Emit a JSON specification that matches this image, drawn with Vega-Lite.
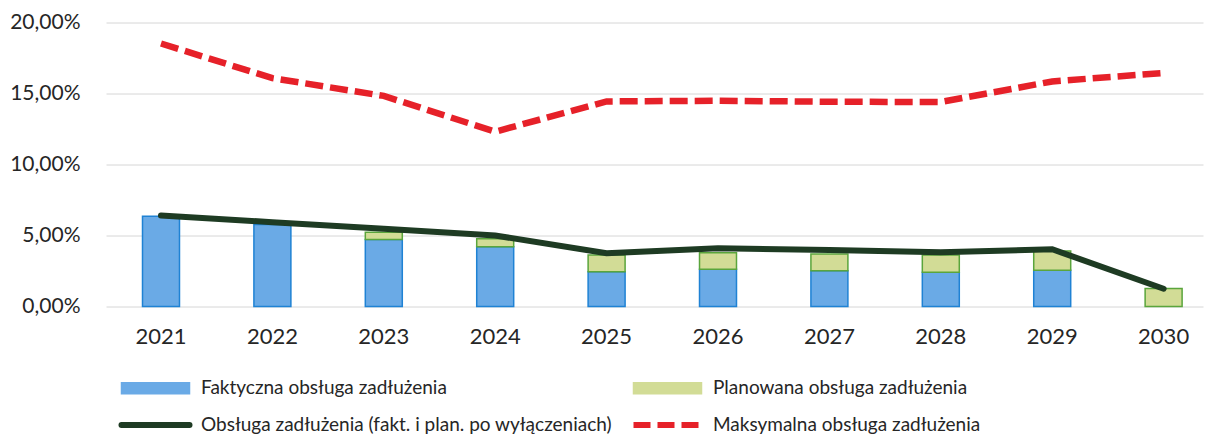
{
  "$schema": "https://vega.github.io/schema/vega-lite/v6.json",
  "width": 1097,
  "height": 284,
  "autosize": {"type": "none"},
  "padding": {"left": 106, "top": 22.5, "right": 2, "bottom": 129.5},
  "background": "white",
  "config": {"view": {"stroke": null}, "font": "Lato"},
  "data": {
    "values": [
      {"year": "2021", "series": "Faktyczna obsługa zadłużenia", "value": 0.0636},
      {"year": "2022", "series": "Faktyczna obsługa zadłużenia", "value": 0.0578},
      {"year": "2023", "series": "Faktyczna obsługa zadłużenia", "value": 0.0472},
      {"year": "2024", "series": "Faktyczna obsługa zadłużenia", "value": 0.0420},
      {"year": "2025", "series": "Faktyczna obsługa zadłużenia", "value": 0.0245},
      {"year": "2026", "series": "Faktyczna obsługa zadłużenia", "value": 0.0262},
      {"year": "2027", "series": "Faktyczna obsługa zadłużenia", "value": 0.0252},
      {"year": "2028", "series": "Faktyczna obsługa zadłużenia", "value": 0.0241},
      {"year": "2029", "series": "Faktyczna obsługa zadłużenia", "value": 0.0255},
      {"year": "2023", "series": "Planowana obsługa zadłużenia", "value": 0.0051},
      {"year": "2024", "series": "Planowana obsługa zadłużenia", "value": 0.0057},
      {"year": "2025", "series": "Planowana obsługa zadłużenia", "value": 0.0118},
      {"year": "2026", "series": "Planowana obsługa zadłużenia", "value": 0.0117},
      {"year": "2027", "series": "Planowana obsługa zadłużenia", "value": 0.0118},
      {"year": "2028", "series": "Planowana obsługa zadłużenia", "value": 0.0122},
      {"year": "2029", "series": "Planowana obsługa zadłużenia", "value": 0.0135},
      {"year": "2030", "series": "Planowana obsługa zadłużenia", "value": 0.0127},
      {"year": "2021", "series": "Obsługa zadłużenia (fakt. i plan. po wyłączeniach)", "value": 0.0641},
      {"year": "2022", "series": "Obsługa zadłużenia (fakt. i plan. po wyłączeniach)", "value": 0.0594},
      {"year": "2023", "series": "Obsługa zadłużenia (fakt. i plan. po wyłączeniach)", "value": 0.0547},
      {"year": "2024", "series": "Obsługa zadłużenia (fakt. i plan. po wyłączeniach)", "value": 0.0500},
      {"year": "2025", "series": "Obsługa zadłużenia (fakt. i plan. po wyłączeniach)", "value": 0.0375},
      {"year": "2026", "series": "Obsługa zadłużenia (fakt. i plan. po wyłączeniach)", "value": 0.0410},
      {"year": "2027", "series": "Obsługa zadłużenia (fakt. i plan. po wyłączeniach)", "value": 0.0398},
      {"year": "2028", "series": "Obsługa zadłużenia (fakt. i plan. po wyłączeniach)", "value": 0.0382},
      {"year": "2029", "series": "Obsługa zadłużenia (fakt. i plan. po wyłączeniach)", "value": 0.0403},
      {"year": "2030", "series": "Obsługa zadłużenia (fakt. i plan. po wyłączeniach)", "value": 0.0125},
      {"year": "2021", "series": "Maksymalna obsługa zadłużenia", "value": 0.1852},
      {"year": "2022", "series": "Maksymalna obsługa zadłużenia", "value": 0.1608},
      {"year": "2023", "series": "Maksymalna obsługa zadłużenia", "value": 0.1483},
      {"year": "2024", "series": "Maksymalna obsługa zadłużenia", "value": 0.1231},
      {"year": "2025", "series": "Maksymalna obsługa zadłużenia", "value": 0.1444},
      {"year": "2026", "series": "Maksymalna obsługa zadłużenia", "value": 0.1449},
      {"year": "2027", "series": "Maksymalna obsługa zadłużenia", "value": 0.1442},
      {"year": "2028", "series": "Maksymalna obsługa zadłużenia", "value": 0.1440},
      {"year": "2029", "series": "Maksymalna obsługa zadłużenia", "value": 0.1585},
      {"year": "2030", "series": "Maksymalna obsługa zadłużenia", "value": 0.1645}
    ]
  },
  "encoding": {
    "x": {
      "field": "year",
      "type": "nominal",
      "title": null,
      "scale": {"paddingInner": 0.668, "paddingOuter": 0.2576, "align": 0.636},
      "axis": {
        "labelFont": "Lato",
        "labelFontSize": 22,
        "labelColor": "#262626",
        "labelAngle": 0,
        "ticks": false,
        "domain": false,
        "grid": false,
        "labelPadding": 20
      }
    },
    "y": {
      "field": "value",
      "type": "quantitative",
      "title": null,
      "scale": {"domain": [0, 0.2], "nice": false},
      "axis": {
        "values": [0, 0.05, 0.1, 0.15, 0.2],
        "labelExpr": "replace(format(datum.value, '.2%'), '.', ',')",
        "labelFont": "Lato",
        "labelFontSize": 21,
        "labelColor": "#262626",
        "ticks": false,
        "domain": false,
        "labelPadding": 26,
        "gridColor": "#d6d6d6",
        "gridWidth": 1
      }
    },
    "color": {
      "field": "series",
      "type": "nominal",
      "scale": {
        "domain": [
          "Faktyczna obsługa zadłużenia",
          "Planowana obsługa zadłużenia",
          "Obsługa zadłużenia (fakt. i plan. po wyłączeniach)",
          "Maksymalna obsługa zadłużenia"
        ],
        "range": ["#6aaae6", "#d2dc96", "#1e3b23", "#e62129"]
      },
      "legend": {
        "orient": "none",
        "direction": "horizontal",
        "legendX": 17,
        "legendY": 356,
        "columns": 2,
        "columnPadding": 9,
        "rowPadding": 14,
        "title": null,
        "padding": 0,
        "labelFont": "Lato",
        "labelFontSize": 19,
        "labelColor": "#262626",
        "labelLimit": 700,
        "symbolSize": 400,
        "symbolStrokeWidth": 1.5,
        "symbolOffset": 23,
        "labelOffset": 36,
        "encode": {
          "symbols": {
            "update": {
              "shape": {"signal": "datum.index < 2 ? 'M-3.4,-0.55H3.4V0.55H-3.4Z' : 'M-3.4,0H3.4'"},
              "fill": {"signal": "datum.index === 0 ? '#6aaae6' : datum.index === 1 ? '#d2dc96' : 'transparent'"},
              "stroke": {"signal": "datum.index === 0 ? '#1f82d4' : datum.index === 1 ? '#5aa53c' : datum.index === 2 ? '#1e3b23' : '#e62129'"},
              "strokeWidth": {"signal": "datum.index < 2 ? 1.5 : 6"},
              "strokeDash": {"signal": "datum.index === 3 ? [17, 7] : []"},
              "strokeCap": {"signal": "datum.index === 2 ? 'round' : 'butt'"},
              "opacity": {"value": 1}
            }
          }
        }
      }
    }
  },
  "layer": [
    {
      "transform": [{"filter": "datum.series === 'Faktyczna obsługa zadłużenia' || datum.series === 'Planowana obsługa zadłużenia'"}],
      "mark": {"type": "bar", "strokeWidth": 1.5},
      "encoding": {
        "order": {"field": "series", "type": "nominal", "sort": "ascending"},
        "stroke": {
          "condition": {"test": "datum.series === 'Faktyczna obsługa zadłużenia'", "value": "#1f82d4"},
          "value": "#5aa53c"
        }
      }
    },
    {
      "transform": [{"filter": "datum.series === 'Obsługa zadłużenia (fakt. i plan. po wyłączeniach)'"}],
      "mark": {"type": "line", "strokeWidth": 6, "strokeCap": "round"},
      "encoding": {}
    },
    {
      "transform": [{"filter": "datum.series === 'Maksymalna obsługa zadłużenia'"}],
      "mark": {"type": "line", "strokeWidth": 6.5, "strokeDash": [18, 7]},
      "encoding": {}
    }
  ]
}
